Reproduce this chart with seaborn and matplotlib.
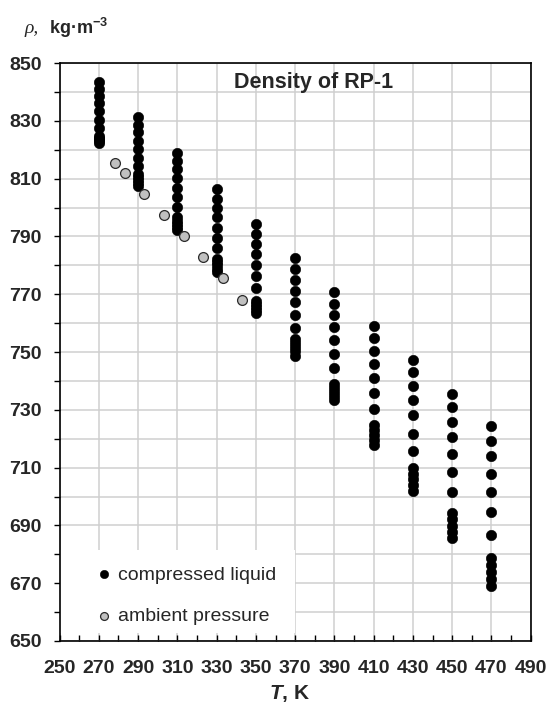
import matplotlib
matplotlib.use("Agg")
import matplotlib.pyplot as plt
import seaborn as sns
import pandas as pd
from matplotlib.ticker import FixedLocator
from matplotlib.patches import Rectangle

# ---------------- data ----------------
temps_compressed = [270, 290, 310, 330, 350, 370, 390, 410, 430, 450, 470]
rho_270 = [843.4, 841.0, 838.7, 836.2, 833.3, 830.4, 827.6, 824.9, 824.2, 823.6, 823.0, 822.4]
rho_290 = [831.2, 828.7, 826.1, 823.2, 820.3, 817.3, 814.3, 811.5, 810.6, 809.6, 808.5, 807.6]
rho_310 = [819.0, 816.2, 813.2, 810.1, 806.9, 803.7, 800.2, 796.6, 795.5, 794.4, 793.3, 792.3]
rho_330 = [806.3, 803.1, 799.9, 796.6, 793.1, 789.5, 785.9, 782.2, 781.1, 780.0, 778.9, 777.8]
rho_350 = [794.2, 790.9, 787.4, 783.9, 780.2, 776.3, 772.2, 767.6, 766.6, 765.6, 764.6, 763.6]
rho_370 = [782.4, 778.8, 775.0, 771.2, 767.3, 762.9, 758.4, 754.6, 753.2, 751.7, 750.3, 748.8]
rho_390 = [770.7, 766.8, 762.9, 758.6, 754.1, 749.4, 744.5, 739.1, 737.6, 736.2, 734.7, 733.3]
rho_410 = [759.1, 754.8, 750.4, 745.9, 741.1, 735.9, 730.3, 724.7, 723.0, 721.3, 719.5, 717.8]
rho_430 = [747.3, 743.1, 738.3, 733.4, 728.1, 721.8, 715.9, 709.8, 707.8, 705.9, 703.9, 701.9]
rho_450 = [735.6, 731.0, 725.9, 720.7, 714.8, 708.4, 701.6, 694.2, 692.1, 689.9, 687.8, 685.6]
rho_470 = [724.3, 719.2, 714.0, 707.8, 701.6, 694.8, 686.8, 678.7, 676.3, 673.9, 671.4, 669.0]
rho_columns = [rho_270, rho_290, rho_310, rho_330, rho_350, rho_370,
               rho_390, rho_410, rho_430, rho_450, rho_470]

temps_ambient = [278.15, 283.15, 293.15, 303.15, 313.15, 323.15, 333.15, 343.15]
rho_ambient = [815.5, 811.8, 804.7, 797.4, 790.1, 782.9, 775.5, 768.0]

x_ticks = [250, 270, 290, 310, 330, 350, 370, 390, 410, 430, 450, 470, 490]
y_ticks = [650, 670, 690, 710, 730, 750, 770, 790, 810, 830, 850]
series_names = ["compressed liquid", "ambient pressure"]

# ---------------- tables ----------------
rows = []
for t, col in zip(temps_compressed, rho_columns):
    for r in col:
        rows.append({"T": t, "rho": r})
df_comp = pd.DataFrame(rows)
df_amb = pd.DataFrame({"T": temps_ambient, "rho": rho_ambient})

# ---------------- style ----------------
sns.set_theme(style="white")
plt.rcParams["font.family"] = ["Liberation Sans", "DejaVu Sans"]
plt.rcParams["mathtext.fontset"] = "custom"
plt.rcParams["mathtext.it"] = "Liberation Sans:italic:bold"
plt.rcParams["mathtext.rm"] = "Liberation Sans:bold"
plt.rcParams["mathtext.bf"] = "Liberation Sans:bold"

fig = plt.figure(figsize=(5.5, 7.22), dpi=100)
ax = fig.add_axes([0.1084, 0.1122, 0.8564, 0.8004])
ax.set_axisbelow(True)

sns.scatterplot(data=df_comp, x="T", y="rho", ax=ax, color="black",
                edgecolor="black", linewidth=0.4, s=56, zorder=3,
                label=series_names[0], legend=False)
sns.scatterplot(data=df_amb, x="T", y="rho", ax=ax, color="#c0c0c0",
                edgecolor="#2a2a2a", linewidth=0.9, s=50, zorder=4,
                label=series_names[1], legend=False)

ax.set_xlim(250, 490)
ax.set_ylim(650, 850)

ax.xaxis.set_major_locator(FixedLocator(x_ticks))
ax.xaxis.set_minor_locator(FixedLocator(list(range(260, 490, 20))))
ax.yaxis.set_major_locator(FixedLocator(y_ticks))
ax.yaxis.set_minor_locator(FixedLocator(list(range(660, 850, 20))))
ax.set_xticklabels([str(v) for v in x_ticks], fontsize=14, fontweight="bold")
ax.set_yticklabels([str(v) for v in y_ticks], fontsize=14, fontweight="bold")

ax.tick_params(axis="x", which="both", bottom=True, direction="in",
               length=4, width=1, color="black", pad=14)
ax.tick_params(axis="y", which="both", left=True, direction="out",
               length=4, width=1, color="black", pad=9)

ax.grid(True, which="major", axis="x", color="#cfcfcf", lw=1.1)
ax.grid(True, which="both", axis="y", color="#cfcfcf", lw=1.1)

for sp in ax.spines.values():
    sp.set_visible(True)
    sp.set_color("black")
    sp.set_linewidth(1.2)

ax.set_xlabel("")
ax.set_ylabel("")

# white box behind the legend (hides the grid there)
ax.add_patch(Rectangle((0.0, 0.014), 0.5, 0.143, transform=ax.transAxes,
                       facecolor="white", edgecolor="none", zorder=1))

handles = ax.collections[:2]
leg = ax.legend(handles, series_names, loc="lower left",
                bbox_to_anchor=(0.054, 0.010), frameon=False, borderpad=0,
                handlelength=1.0, handletextpad=0.2, labelspacing=1.25,
                fontsize=14, markerscale=0.8)
leg.set_zorder(5)

ax.text(0.54, 0.967, "Density of RP-1", transform=ax.transAxes,
        ha="center", va="center", fontsize=15.5, fontweight="bold")

fig.text(0.045, 0.961, "ρ,", fontsize=14, fontstyle="italic",
         family=["Liberation Serif", "DejaVu Serif"], ha="left", va="center")
fig.text(0.089, 0.961, r"kg·m$^{-3}$", fontsize=13, fontweight="bold",
         ha="left", va="center")
fig.text(0.527, 0.040, r"$T$, K", fontsize=15, fontweight="bold",
         ha="center", va="center")

fig.savefig("out.png", dpi=100)
